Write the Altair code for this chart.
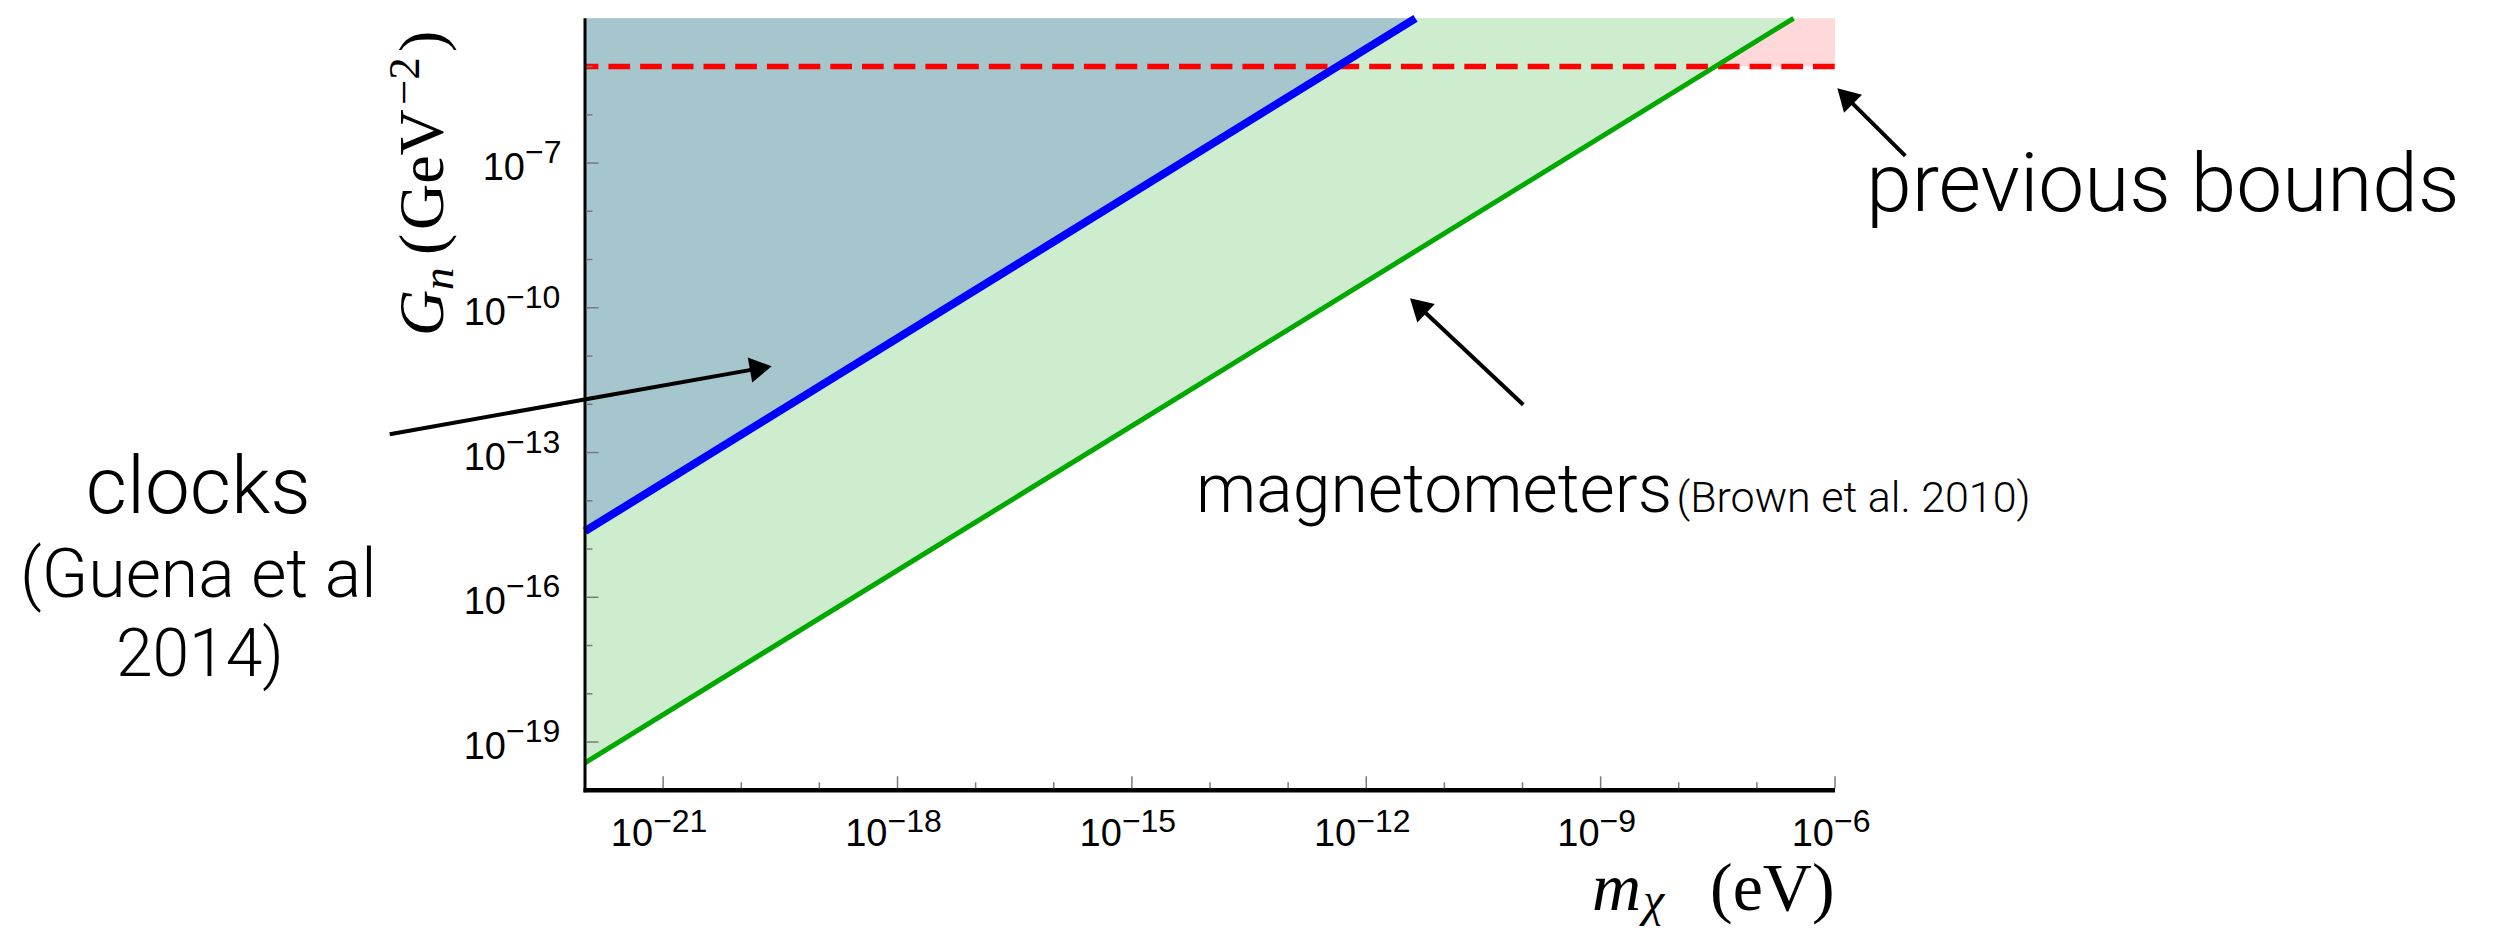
import math
import numpy as np
import pandas as pd
import altair as alt

# ---------------- data (log10 values) ----------------
m_lim = [-22, -6]            # log10 m_chi (eV)
G_lim = [-20, -4]            # log10 G_n (GeV^-2)

clock_m = [-22.0, -11.37]    # clocks bound (blue line)
clock_G = [-14.63, -4.0]
magn_m = [-22.0, -6.53]      # magnetometer bound (green line)
magn_G = [-19.43, -4.0]
prev_G = -5.0                # previous bounds (red dashed line)

x_major = [-21, -18, -15, -12, -9, -6]
x_minor = [-20, -19, -17, -16, -14, -13, -11, -10, -8, -7]
y_major = [-7, -10, -13, -16, -19]
y_minor = [-5, -6, -8, -9, -11, -12, -14, -15, -17, -18]

# annotation texts (anchors in log10 data units)
ann_text = ["clocks", "(Guena et al", "2014)", "previous bounds",
            "magnetometers", "(Brown et al. 2010)"]
ann_m = [-26.95, -26.95, -26.93, -5.60, -14.18, -8.03]
ann_G = [-14.25, -16.00, -17.63, -7.99, -14.23, -14.23]
ann_align = ["center", "center", "center", "left", "left", "left"]
ann_size = [80, 68, 66, 82, 68, 43]

# arrows (tail -> tip, log10 data units)
arrow_tail_m = [-24.50, -9.99, -5.10]
arrow_tail_G = [-12.62, -12.01, -6.85]
arrow_tip_m = [-19.61, -11.44, -5.97]
arrow_tip_G = [-11.21, -9.80, -5.45]

# ---------------- layout ----------------
W, H = 1250, 772
px_m = W / (m_lim[1] - m_lim[0])
px_G = H / (G_lim[1] - G_lim[0])
OX, OY = 585, 18.3   # plot origin on the page

xs = alt.Scale(type="log", domain=[10.0 ** m_lim[0], 10.0 ** m_lim[1]], nice=False)
ys = alt.Scale(type="log", domain=[10.0 ** G_lim[0], 10.0 ** G_lim[1]], nice=False)


def X(f):
    return alt.X(f, type="quantitative", scale=xs, axis=None)


def Y(f):
    return alt.Y(f, type="quantitative", scale=ys, axis=None)


top = 10.0 ** G_lim[1]
layers = []

# previous bounds region (pink)
df_prev = pd.DataFrame({"m0": [10.0 ** m_lim[0]], "m1": [10.0 ** m_lim[1]],
                        "G0": [10.0 ** prev_G], "G1": [top]})
layers.append(alt.Chart(df_prev).mark_rect(color="#FFD8DA", opacity=1)
              .encode(x=X("m0"), x2="m1", y=Y("G0"), y2="G1"))

# magnetometer region (green)
df_magn = pd.DataFrame({"m": 10.0 ** np.array(magn_m), "G": 10.0 ** np.array(magn_G),
                        "top": [top, top]})
layers.append(alt.Chart(df_magn).mark_area(color="#CDEDCE", opacity=1)
              .encode(x=X("m"), y=Y("G"), y2="top"))

# clocks region (blue-grey)
df_clock = pd.DataFrame({"m": 10.0 ** np.array(clock_m), "G": 10.0 ** np.array(clock_G),
                         "top": [top, top]})
layers.append(alt.Chart(df_clock).mark_area(color="#A5C6CC", opacity=1)
              .encode(x=X("m"), y=Y("G"), y2="top"))

# red dashed line
df_red = pd.DataFrame({"m0": [10.0 ** m_lim[0]], "m1": [10.0 ** m_lim[1]], "G": [10.0 ** prev_G]})
layers.append(alt.Chart(df_red).mark_rule(color="#FF0000", strokeWidth=5.5,
                                          strokeDash=[21.7, 10], strokeDashOffset=8.3)
              .encode(x=X("m0"), x2="m1", y=Y("G")))

# green and blue lines
layers.append(alt.Chart(df_magn).mark_line(color="#00A800", strokeWidth=5, strokeCap="butt")
              .encode(x=X("m"), y=Y("G")))
layers.append(alt.Chart(df_clock).mark_line(color="#0000FF", strokeWidth=8, strokeCap="butt")
              .encode(x=X("m"), y=Y("G")))

# axis lines
one = pd.DataFrame({"a": [0]})
layers.append(alt.Chart(one).mark_rule(color="black", strokeWidth=3)
              .encode(x=alt.value(0), y=alt.value(0), y2=alt.value(H + 2)))
layers.append(alt.Chart(one).mark_rule(color="black", strokeWidth=4.5)
              .encode(x=alt.value(-1.5), x2=alt.value(W), y=alt.value(H)))

# ticks (inward)
tick_col = "#7a7a7a"
for vals, ln in [(x_major, 12), (x_minor, 6)]:
    d = pd.DataFrame({"m": 10.0 ** np.array(vals, dtype=float)})
    layers.append(alt.Chart(d).mark_rule(color=tick_col, strokeWidth=1.5)
                  .encode(x=X("m"), y=alt.value(H - 2), y2=alt.value(H - 2 - ln)))
for vals, ln in [(y_major, 12), (y_minor, 6)]:
    d = pd.DataFrame({"G": 10.0 ** np.array(vals, dtype=float)})
    layers.append(alt.Chart(d).mark_rule(color=tick_col, strokeWidth=1.5)
                  .encode(y=Y("G"), x=alt.value(1.5), x2=alt.value(1.5 + ln)))

# tick labels "10" + superscript exponent
LF = "Liberation Sans"
BASE, EXP = 38, 32


def exp_label(v):
    return "\u2212" + str(abs(v))


xl = pd.DataFrame({"m": 10.0 ** np.array(x_major, dtype=float),
                   "base": ["10"] * len(x_major),
                   "exp": [exp_label(v) for v in x_major],
                   "nd": [len(str(abs(v))) for v in x_major]})
for nd, jx in [(2, -10), (1, -1)]:
    d = xl[xl.nd == nd]
    layers.append(alt.Chart(d).mark_text(align="right", baseline="alphabetic", font=LF,
                                         fontSize=BASE, dx=jx, dy=56, color="black")
                  .encode(x=X("m"), y=alt.value(H), text="base:N"))
    layers.append(alt.Chart(d).mark_text(align="left", baseline="alphabetic", font=LF,
                                         fontSize=EXP, dx=jx, dy=42, color="black")
                  .encode(x=X("m"), y=alt.value(H), text="exp:N"))

yl = pd.DataFrame({"G": 10.0 ** np.array(y_major, dtype=float),
                   "base": ["10"] * len(y_major),
                   "exp": [exp_label(v) for v in y_major],
                   "nd": [len(str(abs(v))) for v in y_major]})
for nd, jx in [(2, -79), (1, -60)]:
    d = yl[yl.nd == nd]
    layers.append(alt.Chart(d).mark_text(align="right", baseline="alphabetic", font=LF,
                                         fontSize=BASE, dx=jx, dy=17, color="black")
                  .encode(y=Y("G"), x=alt.value(0), text="base:N"))
    layers.append(alt.Chart(d).mark_text(align="left", baseline="alphabetic", font=LF,
                                         fontSize=EXP, dx=jx, dy=0, color="black")
                  .encode(y=Y("G"), x=alt.value(0), text="exp:N"))

# axis titles built from pieces (serif, math style)
SF = "Liberation Serif"
ytitle = [  # text, size, style, page-y start, offset across baseline
    ("G", 64, "italic", 336, 0),
    ("n", 45, "italic", 290, 10),
    ("(", 64, "normal", 255, 0),
    ("GeV", 64, "normal", 230, 0),
    ("\u22122", 45, "normal", 105, -24),
    (")", 64, "normal", 52, 0),
]
for t, s, st, py, off in ytitle:
    layers.append(alt.Chart(pd.DataFrame({"t": [t]}))
                  .mark_text(align="left", baseline="alphabetic", angle=270, font=SF,
                             fontSize=s, fontStyle=st, dy=off, color="black")
                  .encode(x=alt.value(443 - OX), y=alt.value(py - OY), text="t:N"))

xtitle = [
    ("m", 68, "italic", 1592, 0),
    ("\u03c7", 48, "italic", 1643, 6),
    ("(eV)", 68, "normal", 1710, 0),
]
for t, s, st, px, off in xtitle:
    layers.append(alt.Chart(pd.DataFrame({"t": [t]}))
                  .mark_text(align="left", baseline="alphabetic", font=SF,
                             fontSize=s, fontStyle=st, dy=off, color="black")
                  .encode(x=alt.value(px - OX), y=alt.value(910 - OY), text="t:N"))

# annotation texts
AF = "Roboto"
for t, mm, gg, al, fs in zip(ann_text, ann_m, ann_G, ann_align, ann_size):
    d = pd.DataFrame({"m": [10.0 ** mm], "G": [10.0 ** gg], "t": [t]})
    layers.append(alt.Chart(d).mark_text(align=al, baseline="alphabetic", font=AF,
                                         fontWeight=300, fontSize=fs, color="black")
                  .encode(x=X("m"), y=Y("G"), text="t:N"))

# arrows
HEAD = 650
h = math.sqrt(3) / 2 * math.sqrt(HEAD) / 2
rows = []
for tm, tg, pm, pg in zip(arrow_tail_m, arrow_tail_G, arrow_tip_m, arrow_tip_G):
    sx = (pm - tm) * px_m
    sy = -(pg - tg) * px_G
    L = math.hypot(sx, sy)
    ux, uy = sx / L, sy / L
    cm = pm - ux * h / px_m
    cg = pg + uy * h / px_G
    ang = math.degrees(math.atan2(sy, sx)) % 360
    rows.append({"tm": 10.0 ** tm, "tg": 10.0 ** tg, "cm": 10.0 ** cm, "cg": 10.0 ** cg, "ang": ang})
df_arr = pd.DataFrame(rows)
layers.append(alt.Chart(df_arr).mark_rule(color="black", strokeWidth=4)
              .encode(x=X("tm"), y=Y("tg"), x2="cm", y2="cg"))
layers.append(alt.Chart(df_arr).mark_point(shape="triangle-right", filled=True, size=HEAD,
                                           color="black", opacity=1, strokeWidth=0)
              .encode(x=X("cm"), y=Y("cg"), angle=alt.Angle("ang:Q", scale=None)))

chart = (alt.layer(*layers)
         .properties(width=W, height=H,
                     padding={"left": OX - 8, "top": OY - 8, "right": 645, "bottom": 138},
                     autosize=alt.AutoSizeParams(type="none"))
         .configure_view(stroke="transparent"))

chart.save("out.html", embed_options={"renderer": "svg", "actions": False})
